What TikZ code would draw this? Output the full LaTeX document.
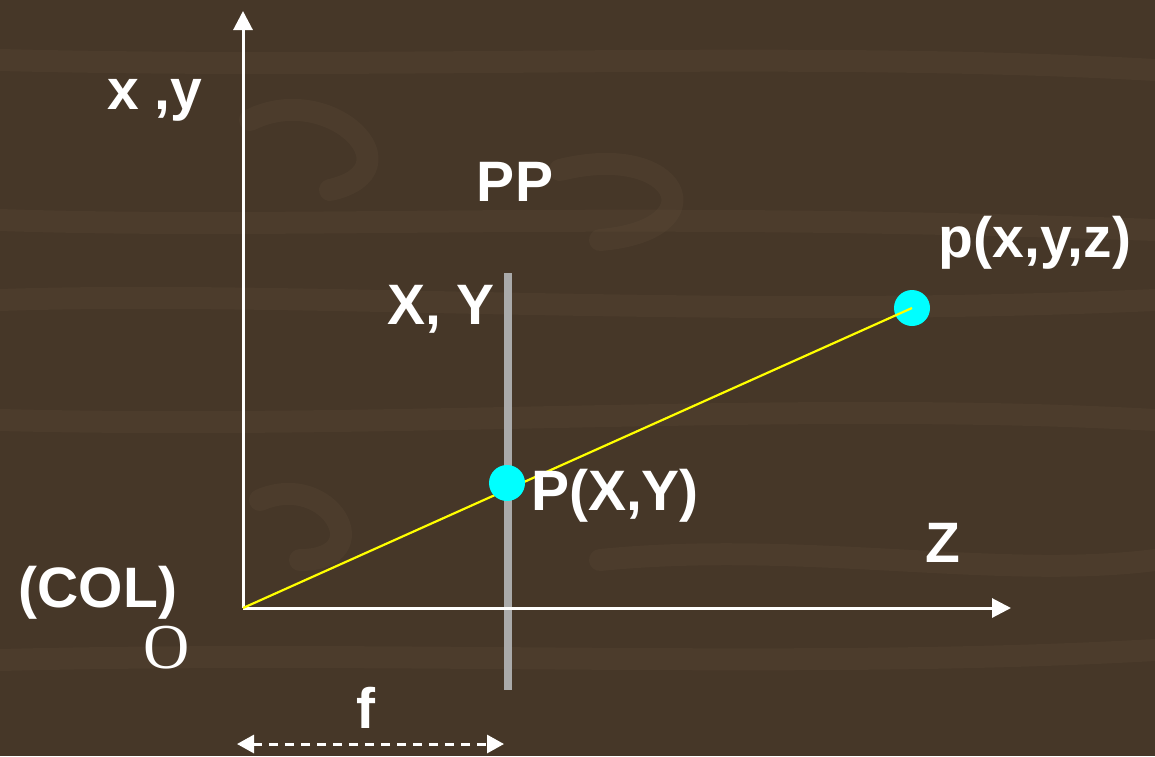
\documentclass[tikz,border=0pt]{standalone}
\usepackage{fontspec}
\setmainfont{Liberation Sans}
\newfontfamily\serifO{Liberation Serif}
\usetikzlibrary{arrows.meta}
\definecolor{wood}{RGB}{70,55,40}
\definecolor{grain}{RGB}{120,100,76}
\definecolor{planegray}{RGB}{170,170,170}
\definecolor{dotcyan}{RGB}{0,255,255}
\definecolor{rayyellow}{RGB}{255,255,0}
\begin{document}
\begin{tikzpicture}[x=1pt,y=-1pt,
  lbl/.style={text=white,font=\fontsize{57}{60}\selectfont\bfseries,inner sep=0pt},
  axis/.style={white,line width=3pt,-{Triangle[width=19pt,length=19pt]}},
  dot/.style={circle,fill=dotcyan,minimum size=36pt,inner sep=0pt},
  ray/.style={rayyellow,line width=2.2pt},
  plane/.style={planegray,line width=8pt},
  dim/.style={white,line width=3pt,dash pattern=on 9pt off 7pt,{Triangle[width=18pt,length=17pt]}-{Triangle[width=18pt,length=17pt]}}]
\fill[wood] (0,0) rectangle (1155,756);
\useasboundingbox (0,0) rectangle (1155,756);
% subtle wood grain
\begin{scope}[grain,line width=22pt,opacity=0.12,line cap=round]
\draw (250,120) .. controls (330,80) and (420,170) .. (330,190);
\draw (560,170) .. controls (680,140) and (720,230) .. (600,240);
\draw (260,500) .. controls (330,470) and (380,560) .. (300,560);
\draw (0,300) .. controls (300,290) and (700,320) .. (1155,300);
\draw (0,420) .. controls (400,430) and (800,400) .. (1155,420);
\draw (0,660) .. controls (400,650) and (800,670) .. (1155,650);
\draw (0,60) .. controls (400,70) and (800,50) .. (1155,70);
\draw (600,560) .. controls (800,540) and (1000,580) .. (1155,560);
\draw (0,220) .. controls (300,230) and (600,210) .. (1155,230);
\end{scope}
% coordinates
\coordinate (O) at (243,608);
\coordinate (ytip) at (243,11);
\coordinate (ztip) at (1011,608);
\coordinate (ptop) at (508,273);
\coordinate (pbot) at (508,690);
\coordinate (fl) at (237,744);
\coordinate (fr) at (504,744);
% plane
\draw[plane] (ptop) -- (pbot);
% axes
\draw[axis] (O) -- (ytip);
\draw[axis] (O) -- (ztip);
% ray and points
\node[dot] (pw) at (912,308) {};
\draw[ray] (O) -- (pw.center);
\node[dot] (pi) at (507,483) {};
% dimension
\draw[dim] (fl) -- (fr);
% labels
\node[lbl] (xy) at (155,100) {x ,y};
\node[lbl] (PP) at (515,182) {PP};
\node[lbl] (pxyz) at (1035,243) {p(x,y,z)};
\node[lbl] (XY) at (441,309) {X, Y};
\node[lbl] (PXY) at (615,496) {P(X,Y)};
\node[lbl] (Z) at (943,543) {Z};
\node[lbl] (COL) at (98,593) {(COL)};
\node[text=white,inner sep=0pt,font=\serifO\fontsize{64}{68}\selectfont] (Olbl) at (167,648) {O};
\node[lbl] (f) at (366,708) {f};
\end{tikzpicture}
\end{document}
